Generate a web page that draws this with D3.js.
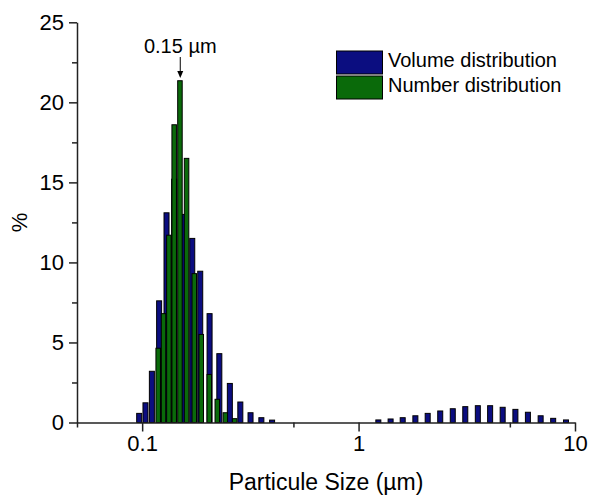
<!DOCTYPE html>
<html>
<head>
<meta charset="utf-8">
<script src="https://cdn.jsdelivr.net/npm/d3@7/dist/d3.min.js"></script>
<style>
  html, body { margin: 0; padding: 0; background: #fff; }
  svg { display: block; font-family: "Liberation Sans", Arial, sans-serif; }
</style>
</head>
<body>
<svg id="chart" width="590" height="496"></svg>
<script>
// ---- data (sizes in µm, values in %) ----
const volumeSizes = [0.0969, 0.1036, 0.1109, 0.1198, 0.1296, 0.1406, 0.1548, 0.1704,
  0.1855, 0.2049, 0.2273, 0.2542, 0.2842, 0.3168, 0.3555, 0.3985,
  1.234, 1.406, 1.599, 1.830, 2.086, 2.384, 2.724, 3.112, 3.556, 4.054,
  4.632, 5.304, 6.059, 6.938, 7.928, 9.085];
const volumeValues = [0.57, 1.23, 3.2, 7.6, 13.1, 15.2, 13.0, 11.5,
  9.45, 6.8, 4.3, 2.44, 1.28, 0.61, 0.3, 0.15,
  0.16, 0.22, 0.3, 0.42, 0.57, 0.72, 0.86, 0.99, 1.05, 1.05,
  0.95, 0.82, 0.64, 0.42, 0.26, 0.16];
const numberSizes = [0.1186, 0.1255, 0.1329, 0.1406, 0.1495, 0.1604, 0.1741, 0.1875,
  0.2042, 0.2224, 0.2423, 0.2675];
const numberValues = [4.64, 6.8, 11.7, 18.6, 21.35, 16.5, 9.3, 5.5, 3.0, 1.45, 0.61, 0.24];
const xMajorTicks = [0.1, 1, 10];
const xMinorTicks = [0.05, 0.5, 5];
const yMajorTicks = [0, 5, 10, 15, 20, 25];
const yMinorTicks = [2.5, 7.5, 12.5, 17.5, 22.5];
const seriesNames = ["Volume distribution", "Number distribution"];
const peakSize = 0.15;
const peakLabel = "0.15 µm";
const xTitle = "Particule Size (µm)";
const yTitle = "%";

// ---- layout ----
const W = 590, H = 496;
const m = { left: 77, top: 22.3, right: 15, bottom: 73.5 };
const colors = { volume: "#0b0d80", number: "#0a6a0a" };
const axisColor = "#222";

const svg = d3.select("#chart");
const x = d3.scaleLog().domain([0.05, 10]).range([m.left, W - m.right]);
const y = d3.scaleLinear().domain([0, 25]).range([H - m.bottom, m.top]);

const volume = volumeSizes.map((s, i) => ({ s, v: volumeValues[i] }));
const number = numberSizes.map((s, i) => ({ s, v: numberValues[i] }));

const volW = 6, numW = 5.5;
svg.append("g").selectAll("rect").data(volume).join("rect")
  .attr("x", d => x(d.s) - volW / 2 + 0.5)
  .attr("y", d => y(d.v))
  .attr("width", volW - 1)
  .attr("height", d => y(0) - y(d.v))
  .attr("fill", colors.volume)
  .attr("stroke", "#000").attr("stroke-width", 1);

svg.append("g").selectAll("rect").data(number).join("rect")
  .attr("x", d => x(d.s) - numW / 2 + 0.5)
  .attr("y", d => y(d.v))
  .attr("width", numW - 1)
  .attr("height", d => y(0) - y(d.v))
  .attr("fill", colors.number)
  .attr("stroke", "#000").attr("stroke-width", 1);

// ---- axes ----
function styleAxis(g) {
  g.selectAll("path.domain").attr("stroke", axisColor).attr("stroke-width", 1.5);
  g.selectAll(".tick line").attr("stroke", axisColor).attr("stroke-width", 1.5);
  g.selectAll(".tick text").attr("fill", "#000").style("font-size", "22px")
    .style("font-family", '"Liberation Sans", Arial, sans-serif');
}
const fmt = d => (d < 1 ? d3.format(".1f")(d) : d3.format("d")(d));
const gx = svg.append("g").attr("transform", `translate(0,${y(0)})`)
  .call(d3.axisBottom(x).tickValues(xMajorTicks).tickFormat(fmt).tickSize(9).tickPadding(4).tickSizeOuter(0));
styleAxis(gx);
const gxm = svg.append("g").attr("transform", `translate(0,${y(0)})`)
  .call(d3.axisBottom(x).tickValues(xMinorTicks).tickFormat("").tickSize(5).tickSizeOuter(0));
styleAxis(gxm);
gxm.select("path.domain").remove();

const gy = svg.append("g").attr("transform", `translate(${m.left},0)`)
  .call(d3.axisLeft(y).tickValues(yMajorTicks).tickSize(8).tickPadding(5).tickSizeOuter(0));
styleAxis(gy);
const gym = svg.append("g").attr("transform", `translate(${m.left},0)`)
  .call(d3.axisLeft(y).tickValues(yMinorTicks).tickFormat("").tickSize(5).tickSizeOuter(0));
styleAxis(gym);
gym.select("path.domain").remove();

// ---- titles ----
svg.append("text").attr("x", (m.left + W - m.right) / 2).attr("y", 490)
  .attr("text-anchor", "middle").style("font-size", "23px").text(xTitle);
svg.append("text").attr("transform", `translate(27,${(y(0) + y(25)) / 2}) rotate(-90)`)
  .attr("text-anchor", "middle").style("font-size", "22px").text(yTitle);

// ---- peak annotation ----
const px = x(peakSize);
svg.append("text").attr("x", px).attr("y", 53).attr("text-anchor", "middle")
  .style("font-size", "20px").text(peakLabel);
svg.append("line").attr("x1", px).attr("x2", px).attr("y1", 57).attr("y2", 72)
  .attr("stroke", "#000").attr("stroke-width", 1);
svg.append("path").attr("d", `M${px - 3},71 L${px + 3},71 L${px},78 Z`).attr("fill", "#000");

// ---- legend ----
const lg = svg.append("g");
seriesNames.forEach((name, i) => {
  lg.append("rect").attr("x", 336.5).attr("y", 51 + i * 25).attr("width", 46).attr("height", 23)
    .attr("fill", i === 0 ? colors.volume : colors.number).attr("stroke", "#000").attr("stroke-width", 1);
  lg.append("text").attr("x", 388).attr("y", 67 + i * 24.5).style("font-size", "20px").text(name);
});
</script>
</body>
</html>
